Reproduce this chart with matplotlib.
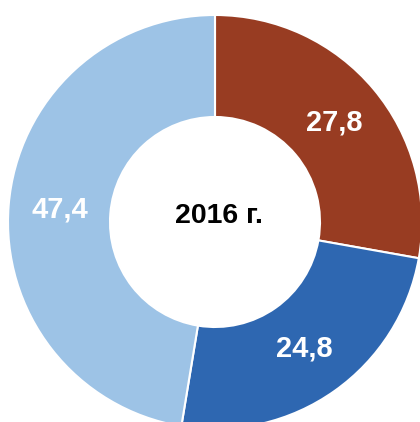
import matplotlib
matplotlib.use("Agg")
import matplotlib.pyplot as plt

categories = ["A", "B", "C"]
values = [27.8, 24.8, 47.4]
colors = ["#983C22", "#2E67B1", "#9DC3E6"]
center_label = "2016 г."

fig = plt.figure(figsize=(4.2, 4.22), dpi=100)
ax = fig.add_axes([0, 0, 1, 1])

def fmt(p):
    return f"{p:.1f}".replace(".", ",")

wedges, texts, autotexts = ax.pie(
    values, colors=colors, startangle=90, counterclock=False,
    radius=207, center=(0, 0), pctdistance=0.75,
    autopct=fmt,
    wedgeprops=dict(width=102, edgecolor="white", linewidth=1.5),
    textprops=dict(color="white", fontsize=21, fontweight="bold",
                   family="Liberation Sans"),
)
ax.text(4, 6, center_label, ha="center", va="center", fontsize=20.5,
        fontweight="bold", family="Liberation Sans", color="black")
ax.set_xlim(-215, 205)
ax.set_ylim(-200, 222)
ax.set_aspect("auto")
ax.axis("off")
fig.savefig("out.png", dpi=100)
